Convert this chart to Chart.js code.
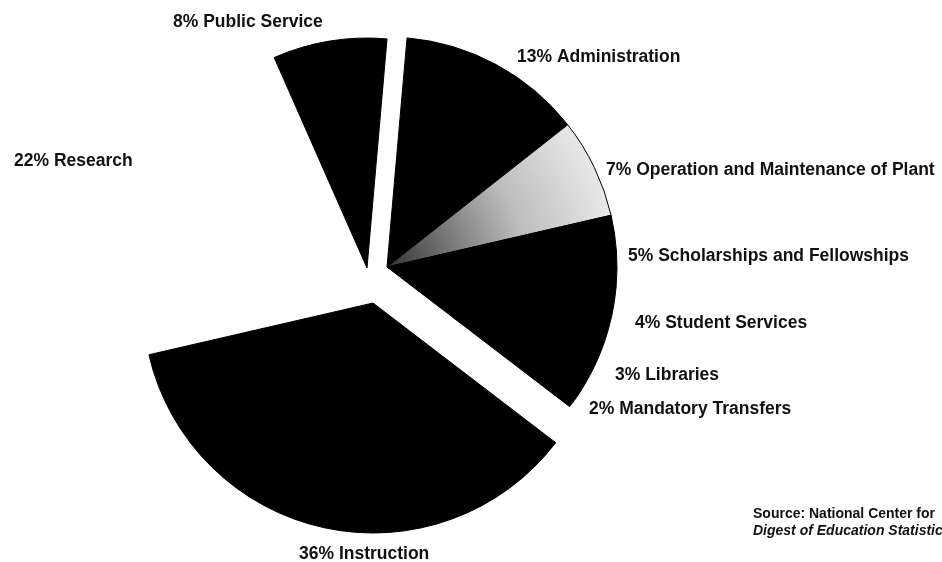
<!DOCTYPE html>
<html>
<head>
<meta charset="utf-8">
<script src="https://cdn.jsdelivr.net/npm/chart.js@4.4.1/dist/chart.umd.min.js"></script>
<style>
  html, body { margin: 0; padding: 0; background: #ffffff; }
  #wrap { position: relative; width: 942px; height: 562px; }
</style>
</head>
<body>
<div id="wrap"><canvas id="expenseChart"></canvas></div>
<script>
// Shares of current-fund expenditures, clockwise from the top
const categories = [
    'Administration',
    'Operation and Maintenance of Plant',
    'Scholarships and Fellowships',
    'Student Services',
    'Libraries',
    'Mandatory Transfers',
    'Instruction',
    'Research',
    'Public Service'
];
const shares = [13, 7, 5, 4, 3, 2, 36, 22, 8];
const sourceLines = ['Source: National Center for', 'Digest of Education Statistics'];

// which exploded piece each slice belongs to, and how far that piece is pulled out
const pieceOf = [0, 0, 0, 0, 0, 0, 1, 2, 2];
const pieceShift = [[20, -1], [6, 35], [0, 0]];

// where each slice label sits (left edge, vertical middle)
const labelSpots = [
    [517, 57], [606, 170], [628, 256], [635, 323], [615, 375],
    [589, 409], [299, 554], [14, 161], [173, 22]
];

const FONT = "'Liberation Sans', Arial, Helvetica, sans-serif";

function sliceFill(ctx) {
    const i = ctx.dataIndex;
    if (i === 1) {
        // stippled slice: dense near the centre, sparse at the rim
        const area = ctx.chart.chartArea;
        if (!area) return '#bbbbbb';
        const cx = (area.left + area.right) / 2;
        const cy = (area.top + area.bottom) / 2;
        const g = ctx.chart.ctx.createRadialGradient(cx, cy, 0, cx, cy, 230);
        g.addColorStop(0, '#333333');
        g.addColorStop(0.3, '#7a7a7a');
        g.addColorStop(0.6, '#bdbdbd');
        g.addColorStop(1, '#e8e8e8');
        return g;
    }
    if (i === 7) return '#ffffff';
    return '#000000';
}

const explodePieces = {
    id: 'explodePieces',
    beforeDatasetDraw(chart, args) {
        const ctx = chart.ctx;
        args.meta.data.forEach((arc, i) => {
            const [dx, dy] = pieceShift[pieceOf[i]];
            ctx.save();
            ctx.translate(dx, dy);
            arc.draw(ctx);
            ctx.restore();
        });
        return false;
    }
};

const sliceLabels = {
    id: 'sliceLabels',
    afterDraw(chart) {
        const ctx = chart.ctx;
        ctx.save();
        ctx.fillStyle = '#111111';
        ctx.textBaseline = 'middle';
        ctx.textAlign = 'left';
        ctx.font = 'bold 17.5px ' + FONT;
        categories.forEach((name, i) => {
            const [x, y] = labelSpots[i];
            ctx.fillText(shares[i] + '% ' + name, x, y);
        });
        ctx.font = 'bold 14px ' + FONT;
        ctx.fillText(sourceLines[0], 753, 514);
        ctx.font = 'italic bold 14px ' + FONT;
        ctx.fillText(sourceLines[1], 753, 531);
        ctx.restore();
    }
};

new Chart(document.getElementById('expenseChart'), {
    type: 'pie',
    data: {
        labels: categories,
        datasets: [{
            data: shares,
            backgroundColor: sliceFill,
            borderColor: (c) => (c.dataIndex === 7 ? '#ffffff' : '#000000'),
            borderWidth: (c) => (c.dataIndex === 7 ? 0 : 1)
        }]
    },
    options: {
        responsive: true,
        maintainAspectRatio: false,
        animation: false,
        rotation: 5,
        radius: 230,
        layout: { padding: { left: 0, right: 208, top: 0, bottom: 26 } },
        plugins: {
            legend: { display: false },
            tooltip: { enabled: false }
        }
    },
    plugins: [explodePieces, sliceLabels]
});
</script>
</body>
</html>
